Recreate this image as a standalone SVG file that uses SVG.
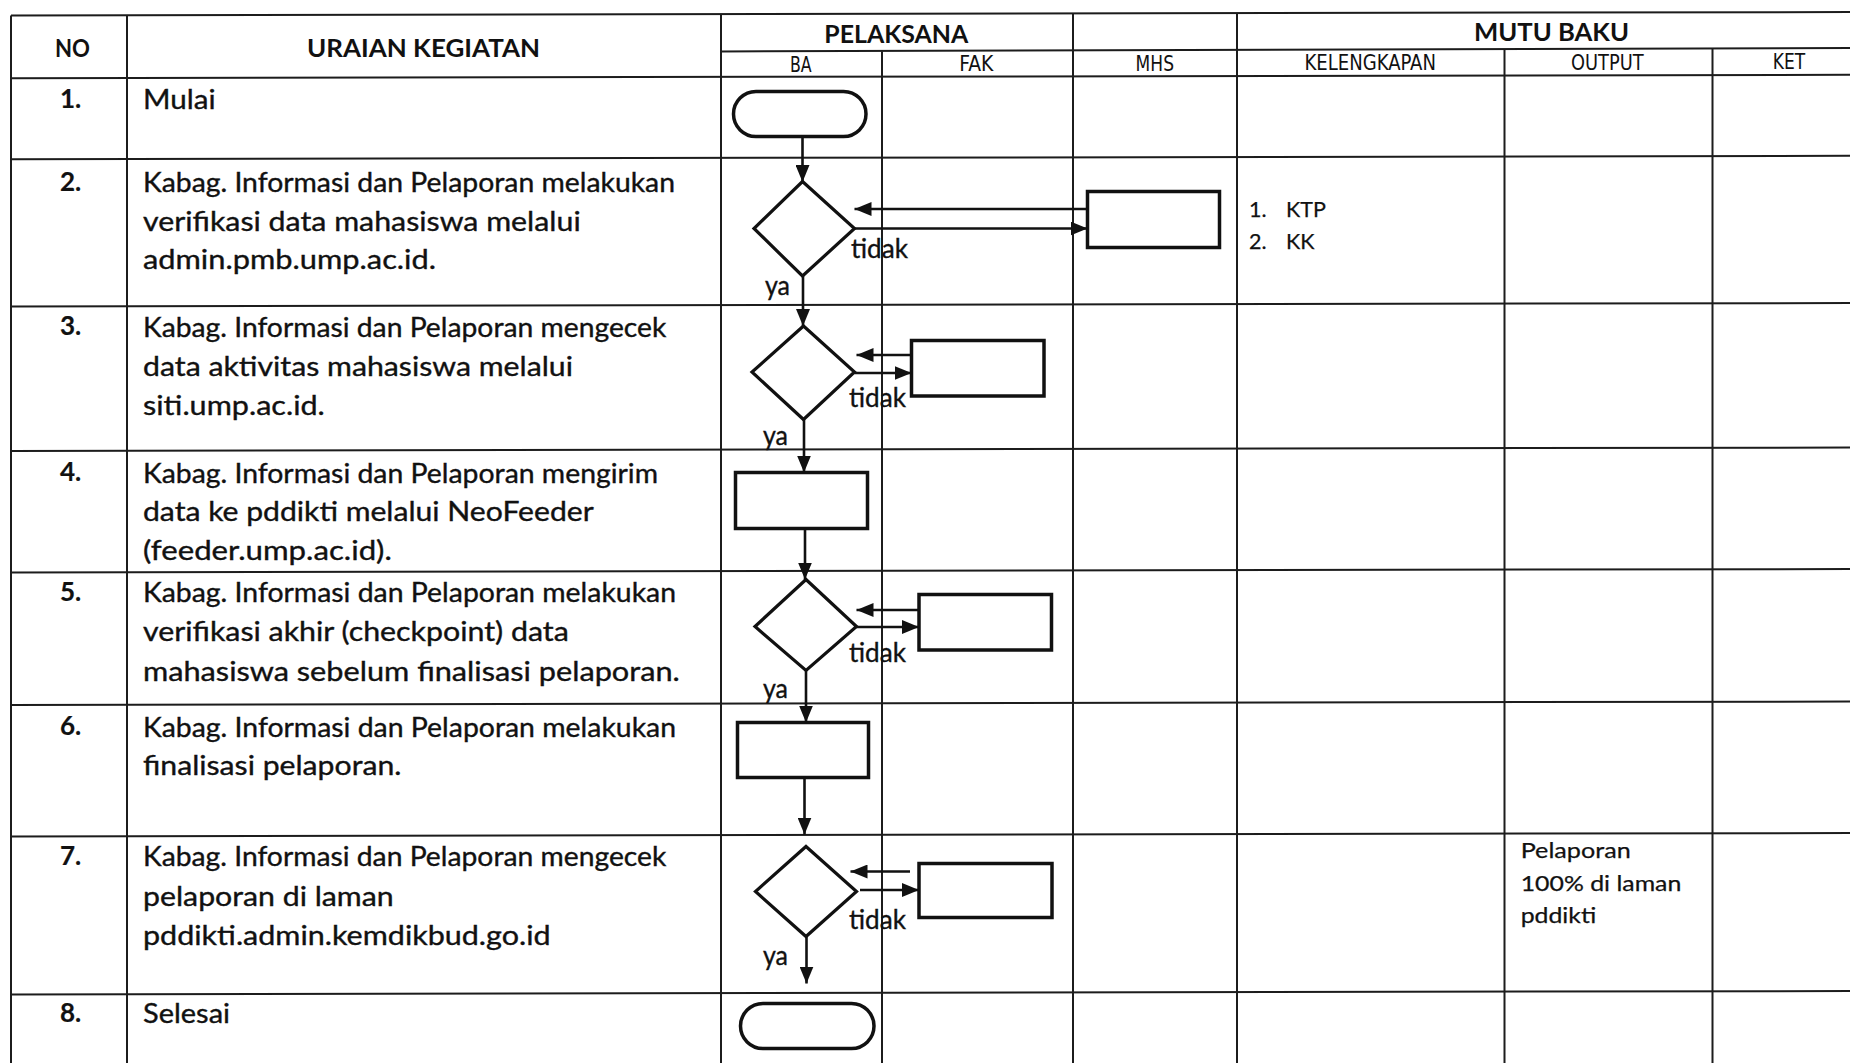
<svg xmlns="http://www.w3.org/2000/svg" width="1850" height="1063" viewBox="0 0 1850 1063">
<defs>
<style>
.grid{stroke:#1c1c1c;stroke-width:2;fill:none}
.shape{fill:#fff;stroke:#111;stroke-width:3.5}
.dia{fill:#fff;stroke:#111;stroke-width:3.2;stroke-linejoin:miter}
.conn{stroke:#111;stroke-width:2.6;fill:none;marker-end:url(#ah)}
.t{font-family:Lato,"Open Sans",sans-serif;font-size:26px;fill:#111;stroke:#111;stroke-width:0.35}
.b{font-weight:700;stroke-width:0.2}
.hdr{font-family:Lato,"Open Sans",sans-serif;font-weight:700;font-size:25.5px;fill:#111}
.sub{font-family:"Liberation Sans Narrow","DejaVu Sans Condensed","Liberation Sans",sans-serif;font-size:20.5px;fill:#111}
.sm{font-family:Lato,"Open Sans",sans-serif;font-size:21.5px;fill:#111;stroke:#111;stroke-width:0.25}
</style>
<marker id="ah" markerUnits="userSpaceOnUse" markerWidth="18" markerHeight="14" refX="17" refY="7" orient="auto">
<path d="M0,0 L17,7 L0,14 z" fill="#111"/>
</marker>
</defs>
<rect width="1850" height="1063" fill="#fff"/>

<g id="table">
<line class="grid" x1="11" y1="15.5" x2="1850" y2="12"/>
<line class="grid" x1="721" y1="51.5" x2="1850" y2="48"/>
<line class="grid" x1="11" y1="78.3" x2="1850" y2="74.8"/>
<line class="grid" x1="11" y1="159.3" x2="1850" y2="155.8"/>
<line class="grid" x1="11" y1="306.5" x2="1850" y2="303"/>
<line class="grid" x1="11" y1="451" x2="1850" y2="447.5"/>
<line class="grid" x1="11" y1="572.5" x2="1850" y2="569"/>
<line class="grid" x1="11" y1="705" x2="1850" y2="701.5"/>
<line class="grid" x1="11" y1="836.5" x2="1850" y2="833"/>
<line class="grid" x1="11" y1="994.5" x2="1850" y2="991"/>
<line class="grid" x1="11" y1="15.5" x2="11" y2="1063"/>
<line class="grid" x1="127" y1="15.3" x2="127" y2="1063"/>
<line class="grid" x1="721" y1="14.2" x2="721" y2="1063"/>
<line class="grid" x1="882" y1="51.2" x2="882" y2="1063"/>
<line class="grid" x1="1073" y1="13.6" x2="1073" y2="1063"/>
<line class="grid" x1="1237" y1="13.3" x2="1237" y2="1063"/>
<line class="grid" x1="1504.5" y1="49.3" x2="1504.5" y2="1063"/>
<line class="grid" x1="1712.5" y1="48.8" x2="1712.5" y2="1063"/>
</g>

<g id="header">
<text class="hdr" x="72.5" y="57" text-anchor="middle" textLength="35" lengthAdjust="spacingAndGlyphs">NO</text>
<text class="hdr" x="423.5" y="57" text-anchor="middle" textLength="233" lengthAdjust="spacingAndGlyphs">URAIAN KEGIATAN</text>
<text class="hdr" x="896.3" y="43" text-anchor="middle" textLength="144" lengthAdjust="spacingAndGlyphs" font-size="24.5">PELAKSANA</text>
<text class="hdr" x="1551.5" y="40.5" text-anchor="middle" textLength="155" lengthAdjust="spacingAndGlyphs" font-size="24.5">MUTU BAKU</text>
<text class="sub" x="800.8" y="71.5" text-anchor="middle" textLength="21.7" lengthAdjust="spacingAndGlyphs">BA</text>
<text class="sub" x="976.3" y="71.3" text-anchor="middle" textLength="34" lengthAdjust="spacingAndGlyphs">FAK</text>
<text class="sub" x="1154.8" y="70.8" text-anchor="middle" textLength="38.4" lengthAdjust="spacingAndGlyphs">MHS</text>
<text class="sub" x="1370.2" y="70.4" text-anchor="middle" textLength="131.6" lengthAdjust="spacingAndGlyphs">KELENGKAPAN</text>
<text class="sub" x="1607.3" y="69.8" text-anchor="middle" textLength="72.6" lengthAdjust="spacingAndGlyphs">OUTPUT</text>
<text class="sub" x="1789" y="69.4" text-anchor="middle" textLength="32.4" lengthAdjust="spacingAndGlyphs">KET</text>
</g>

<g id="rows-text">
<text class="t b" x="60" y="107.5">1.</text>
<text class="t" x="143" y="108.5" textLength="72.6" lengthAdjust="spacingAndGlyphs">Mulai</text>

<text class="t b" x="60" y="191">2.</text>
<text class="t" x="143" y="191.5" textLength="532" lengthAdjust="spacingAndGlyphs">Kabag. Informasi dan Pelaporan melakukan</text>
<text class="t" x="143" y="230.5" textLength="437.7" lengthAdjust="spacingAndGlyphs">verifikasi data mahasiswa melalui</text>
<text class="t" x="143" y="269" textLength="293" lengthAdjust="spacingAndGlyphs">admin.pmb.ump.ac.id.</text>

<text class="t b" x="60" y="335">3.</text>
<text class="t" x="143" y="336.5" textLength="523.4" lengthAdjust="spacingAndGlyphs">Kabag. Informasi dan Pelaporan mengecek</text>
<text class="t" x="143" y="375.5" textLength="430" lengthAdjust="spacingAndGlyphs">data aktivitas mahasiswa melalui</text>
<text class="t" x="143" y="415" textLength="181.8" lengthAdjust="spacingAndGlyphs">siti.ump.ac.id.</text>

<text class="t b" x="60" y="481">4.</text>
<text class="t" x="143" y="482.5" textLength="515" lengthAdjust="spacingAndGlyphs">Kabag. Informasi dan Pelaporan mengirim</text>
<text class="t" x="143" y="521" textLength="450.7" lengthAdjust="spacingAndGlyphs">data ke pddikti melalui NeoFeeder</text>
<text class="t" x="143" y="559.5" textLength="248.8" lengthAdjust="spacingAndGlyphs">(feeder.ump.ac.id).</text>

<text class="t b" x="60" y="600.5">5.</text>
<text class="t" x="143" y="602" textLength="533" lengthAdjust="spacingAndGlyphs">Kabag. Informasi dan Pelaporan melakukan</text>
<text class="t" x="143" y="641" textLength="425.8" lengthAdjust="spacingAndGlyphs">verifikasi akhir (checkpoint) data</text>
<text class="t" x="143" y="681" textLength="536.8" lengthAdjust="spacingAndGlyphs">mahasiswa sebelum finalisasi pelaporan.</text>

<text class="t b" x="60" y="734.5">6.</text>
<text class="t" x="143" y="736.5" textLength="533" lengthAdjust="spacingAndGlyphs">Kabag. Informasi dan Pelaporan melakukan</text>
<text class="t" x="143" y="775" textLength="258.4" lengthAdjust="spacingAndGlyphs">finalisasi pelaporan.</text>

<text class="t b" x="60" y="864.5">7.</text>
<text class="t" x="143" y="866" textLength="523.4" lengthAdjust="spacingAndGlyphs">Kabag. Informasi dan Pelaporan mengecek</text>
<text class="t" x="143" y="905.5" textLength="250.7" lengthAdjust="spacingAndGlyphs">pelaporan di laman</text>
<text class="t" x="143" y="944.5" textLength="407.6" lengthAdjust="spacingAndGlyphs">pddikti.admin.kemdikbud.go.id</text>

<text class="t b" x="60" y="1021.5">8.</text>
<text class="t" x="143" y="1023" textLength="87" lengthAdjust="spacingAndGlyphs">Selesai</text>
</g>

<g id="mutu-baku-text">
<text class="sm" x="1249" y="216.5">1.</text>
<text class="sm" x="1286" y="216.5">KTP</text>
<text class="sm" x="1249" y="248.5">2.</text>
<text class="sm" x="1286" y="248.5">KK</text>
<text class="sm" x="1520.7" y="858" textLength="110" lengthAdjust="spacingAndGlyphs">Pelaporan</text>
<text class="sm" x="1520.7" y="890.5" textLength="160.6" lengthAdjust="spacingAndGlyphs">100% di laman</text>
<text class="sm" x="1520.7" y="922.5" textLength="75.5" lengthAdjust="spacingAndGlyphs">pddikti</text>
</g>

<g id="n1-start"><rect class="shape" x="733.5" y="91.5" width="132.5" height="45" rx="22.5"/></g>
<g id="n2-decision"><polygon class="dia" points="802.5,181.5 854.5,228.5 802.5,276 754,228.5"/></g>
<g id="n2-mhs"><rect class="shape" x="1087.5" y="191.5" width="132" height="56"/></g>
<g id="n3-decision"><polygon class="dia" points="803.5,326 854.5,372 803.5,419.5 752,372"/></g>
<g id="n3-fak"><rect class="shape" x="911.5" y="340.5" width="132.5" height="55.5"/></g>
<g id="n4-process"><rect class="shape" x="735.5" y="472.5" width="132" height="56"/></g>
<g id="n5-decision"><polygon class="dia" points="806,579.5 856.5,626.5 806,670.5 755,626.5"/></g>
<g id="n5-fak"><rect class="shape" x="919" y="594.5" width="132.5" height="55.5"/></g>
<g id="n6-process"><rect class="shape" x="737.5" y="722.5" width="131" height="55"/></g>
<g id="n7-decision"><polygon class="dia" points="806,846.5 856.5,891.5 806,936.5 755.5,891.5"/></g>
<g id="n7-fak"><rect class="shape" x="919" y="863.5" width="133" height="54"/></g>
<g id="n8-end"><rect class="shape" x="740.5" y="1003.5" width="133.5" height="45" rx="22.5"/></g>

<g id="connectors">
<path class="conn" d="M802.5,137 V182"/>
<path class="conn" d="M803,276 V326"/>
<path class="conn" d="M804,419.5 V472.5"/>
<path class="conn" d="M805,528.5 V579.5"/>
<path class="conn" d="M806,670.5 V722.5"/>
<path class="conn" d="M804.5,777.5 V834.5"/>
<path class="conn" d="M806.5,936.5 V983.5"/>
<path class="conn" d="M1087.5,209 H854.5"/>
<path class="conn" d="M854.5,228.5 H1087.5"/>
<path class="conn" d="M911.5,355 H856.5"/>
<path class="conn" d="M854.5,373 H911.5"/>
<path class="conn" d="M919,610 H856.5"/>
<path class="conn" d="M856.5,627 H919"/>
<path class="conn" d="M910,871.5 H850.5"/>
<path class="conn" d="M860,890 H919"/>
<text class="t" x="851" y="258" textLength="57" lengthAdjust="spacingAndGlyphs">tidak</text>
<text class="t" x="765" y="295" textLength="25" lengthAdjust="spacingAndGlyphs">ya</text>
<text class="t" x="849" y="406.5" textLength="57" lengthAdjust="spacingAndGlyphs">tidak</text>
<text class="t" x="763" y="445" textLength="25" lengthAdjust="spacingAndGlyphs">ya</text>
<text class="t" x="849" y="661.5" textLength="57" lengthAdjust="spacingAndGlyphs">tidak</text>
<text class="t" x="763" y="698" textLength="25" lengthAdjust="spacingAndGlyphs">ya</text>
<text class="t" x="849" y="929" textLength="57" lengthAdjust="spacingAndGlyphs">tidak</text>
<text class="t" x="763" y="965" textLength="25" lengthAdjust="spacingAndGlyphs">ya</text>
</g>
</svg>
